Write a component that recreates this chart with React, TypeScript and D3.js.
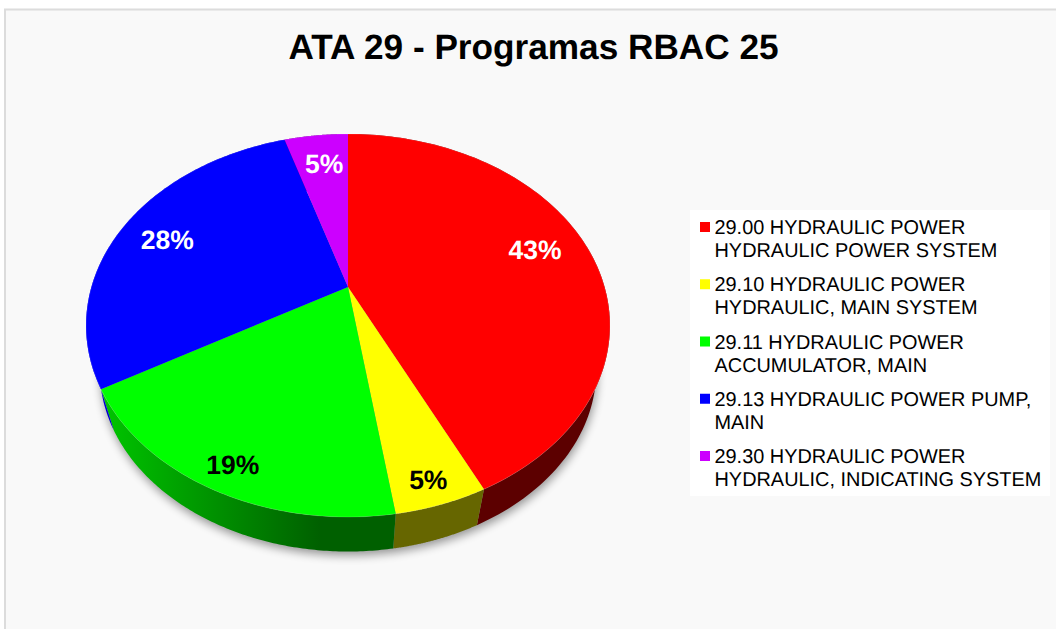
import React from "react";
import * as d3 from "d3";

const chartTitle = "ATA 29 - Programas RBAC 25";
const counts = [9, 1, 4, 6, 1];
const percentLabels = ["43%", "5%", "19%", "28%", "5%"];
const labelColors = ["#ffffff", "#000000", "#000000", "#ffffff", "#ffffff"];
const sliceColors = ["#ff0000", "#ffff00", "#00ff00", "#0000ff", "#cc00ff"];
const legendLines = [
  ["29.00 HYDRAULIC POWER", "HYDRAULIC POWER SYSTEM"],
  ["29.10 HYDRAULIC POWER", "HYDRAULIC, MAIN SYSTEM"],
  ["29.11 HYDRAULIC POWER", "ACCUMULATOR, MAIN"],
  ["29.13 HYDRAULIC POWER PUMP,", "MAIN"],
  ["29.30 HYDRAULIC POWER", "HYDRAULIC, INDICATING SYSTEM"],
];

// Perspective projection of the pie disc onto the page
const APEX = { x: 348, y: 287 };
const P = -0.201, A = 256.6, B = 183.8;
const VANISH_Y = 1180, BASE_SCALE = 0.948;
const LABEL_R = [0.78, 0.9, 0.9, 0.78, 0.8];
const LABEL_DX = [-1.5, -2, 4.5, -4.5, 2.5];
const LABEL_DY = [-7, 1, -1, 2, 2];
const FONT = "'Liberation Sans', Arial, sans-serif";

function top(t: number, r = 1): [number, number] {
  const u = r * Math.sin(t), v = -r * Math.cos(t), d = 1 + P * v;
  return [APEX.x + (A * u) / d, APEX.y + (B * v) / d];
}
function base(t: number): [number, number] {
  const [x, y] = top(t);
  return [APEX.x + (x - APEX.x) * BASE_SCALE, VANISH_Y + (y - VANISH_Y) * BASE_SCALE];
}
const line = d3.line();
const arcPts = (f: (t: number) => [number, number], a: number, b: number) =>
  d3.range(0, 121).map((i) => f(a + ((b - a) * i) / 120));

const slices = d3.pie<number>().sort(null).startAngle(0).endAngle(2 * Math.PI)(counts);
const full = arcPts(top, 0, 2 * Math.PI);
const fullBase = arcPts(base, 0, 2 * Math.PI);
const sideFill = ["#5c0000", "#666600", "url(#side2)", "#0000d0", "#520066"];

export default function App() {
  const legendY = d3.scaleBand<number>().domain(d3.range(5)).range([212, 498.25]);
  return (
    <svg width={1056} height={629} style={{ position: "absolute", left: 0, top: 0 }} textRendering="geometricPrecision">
      <defs>
        <filter id="sh" x="-20%" y="-20%" width="140%" height="140%">
          <feGaussianBlur stdDeviation="5" />
        </filter>
        <linearGradient id="side2" gradientUnits="userSpaceOnUse" x1="105" x2="320" y1="0" y2="0">
          <stop offset="0" stopColor="#00c400" />
          <stop offset="1" stopColor="#006000" />
        </linearGradient>
      </defs>
      <rect x={0} y={0} width={1056} height={629} fill="#ffffff" />
      <rect x={5} y={9.5} width={1060} height={630} fill="#f9f9f9" stroke="#dcdcdc" strokeWidth={2} />
      <text x={533.5} y={59} textAnchor="middle" fontFamily={FONT} fontWeight="bold" fontSize={35.2} fill="#000">{chartTitle}</text>

      <path d={line(fullBase.map(([x, y]) => [x + 1, y + 4]) as [number, number][]) + "Z"} fill="#000" opacity={0.4} filter="url(#sh)" />
      {slices.map((s, i) => (
        <path key={"side" + i}
          d={line([...arcPts(top, s.startAngle, s.endAngle), ...arcPts(base, s.startAngle, s.endAngle).reverse()]) + "Z"}
          fill={sideFill[i]} />
      ))}
      {slices.map((s, i) => (
        <path key={"top" + i}
          d={line([[APEX.x, APEX.y], ...arcPts(top, s.startAngle, s.endAngle)]) + "Z"}
          fill={sliceColors[i]} />
      ))}
      <path d={line(full) + "Z"} fill="none" stroke="#ffffff" strokeOpacity={0.25} strokeWidth={0.6} />
      {slices.map((s, i) => {
        const [x, y] = top((s.startAngle + s.endAngle) / 2, LABEL_R[i]);
        return (
          <text key={"lab" + i} x={x + LABEL_DX[i]} y={y + LABEL_DY[i]} dy="0.36em" textAnchor="middle" fontFamily={FONT} fontWeight="bold" fontSize={26.5} fill={labelColors[i]}>{percentLabels[i]}</text>
        );
      })}

      <rect x={690} y={210} width={360} height={286} fill="#ffffff" />
      {legendLines.map((lines, i) => {
        const y0 = legendY(i)!;
        return (
          <g key={"leg" + i}>
            <rect x={700} y={y0 + 10} width={10} height={10} fill={sliceColors[i]} />
            {lines.map((t, j) => (
              <text key={j} x={714.5} y={y0 + 22 + j * 23} fontFamily={FONT} fontSize={19.9} fill="#000">{t}</text>
            ))}
          </g>
        );
      })}
    </svg>
  );
}
